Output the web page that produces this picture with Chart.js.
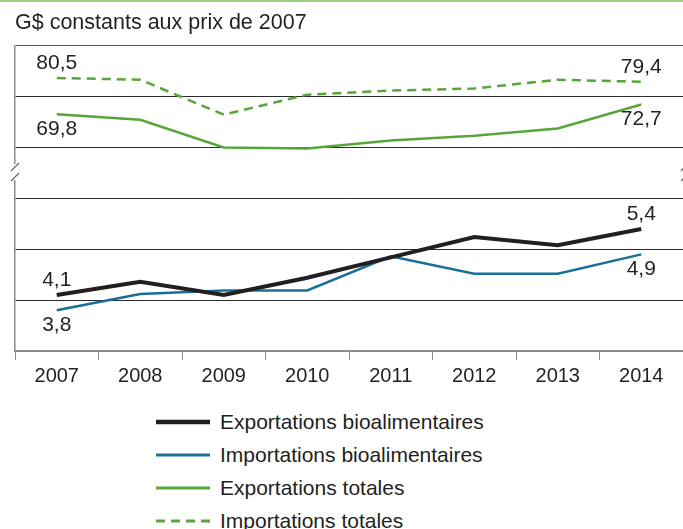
<!DOCTYPE html>
<html>
<head>
<meta charset="utf-8">
<script src="https://cdn.jsdelivr.net/npm/chart.js@4/dist/chart.umd.min.js"></script>
<style>
    body { margin: 0; background: #fff; width: 683px; height: 529px; overflow: hidden; position: relative; font-family: "Liberation Sans", Arial, sans-serif; color: #231f20; }
    #topRule { position: absolute; left: 0; top: 0; width: 683px; height: 2px; background: #9ccc7c; }
    #wrap { position: absolute; left: 0; top: 0; width: 683px; height: 395px; }
    #legend { position: absolute; left: 156px; top: 405px; }
    .row { height: 33px; display: flex; align-items: center; font-size: 21px; white-space: nowrap; }
    .row svg { margin-right: 10px; }
</style>
</head>
<body>
<div id="topRule"></div>
<div id="wrap"><canvas id="chart"></canvas></div>
<div id="legend"></div>
<script>
// Values (G$ constants aux prix de 2007)
const years = ['2007', '2008', '2009', '2010', '2011', '2012', '2013', '2014'];
const exportsBio = [4.1, 4.36, 4.1, 4.44, 4.84, 5.24, 5.08, 5.4];
const importsBio = [3.8, 4.12, 4.19, 4.19, 4.86, 4.52, 4.52, 4.9];
const exportsTotal = [69.8, 68.2, 60.0, 59.7, 62.1, 63.5, 65.6, 72.7];
const importsTotal = [80.5, 80.0, 69.7, 75.6, 76.8, 77.4, 80.0, 79.4];

const TEXT = '#231f20';
const GRID = '#2b2b2b';
const AXIS = '#8c8c8c';
const FONT = '"Liberation Sans", Arial, sans-serif';

function fmt(v) {
    return v.toFixed(1).replace('.', ',');
}

// first / last value labels
const endLabels = {
    id: 'endLabels',
    afterDatasetsDraw(chart) {
        const ctx = chart.ctx;
        ctx.save();
        ctx.font = '21px ' + FONT;
        ctx.fillStyle = TEXT;
        ctx.textAlign = 'center';
        ctx.textBaseline = 'middle';
        chart.data.datasets.forEach((ds, i) => {
            const meta = chart.getDatasetMeta(i);
            const last = ds.data.length - 1;
            [0, last].forEach(idx => {
                const pt = meta.data[idx];
                const dy = ds.labelPos === 'above' ? -15 : 15;
                ctx.fillText(fmt(ds.data[idx]), pt.x, pt.y + dy);
            });
        });
        ctx.restore();
    }
};

// axis break marks between the two panels
const axisBreak = {
    id: 'axisBreak',
    afterDraw(chart) {
        const ctx = chart.ctx;
        const top = chart.scales.yTot.getPixelForValue(60);
        const bottom = chart.scales.yBio.getPixelForValue(6);
        const mid = (top + bottom) / 2;
        ctx.save();
        ctx.strokeStyle = '#6a6a6a';
        ctx.lineWidth = 1.2;
        [chart.chartArea.left, chart.chartArea.right + 2].forEach(x => {
            ctx.fillStyle = '#fff';
            ctx.fillRect(x - 3, mid - 9, 6, 16);
            ctx.beginPath();
            ctx.moveTo(x - 4, mid - 2);
            ctx.lineTo(x + 4, mid - 10);
            ctx.moveTo(x - 4, mid + 8);
            ctx.lineTo(x + 4, mid);
            ctx.stroke();
        });
        ctx.restore();
    }
};

const chart = new Chart(document.getElementById('chart'), {
    type: 'line',
    data: {
        labels: years,
        datasets: [{
            label: 'Exportations bioalimentaires',
            data: exportsBio,
            yAxisID: 'yBio',
            borderColor: TEXT,
            borderWidth: 4,
            labelPos: 'above'
        }, {
            label: 'Importations bioalimentaires',
            data: importsBio,
            yAxisID: 'yBio',
            borderColor: '#1a6f99',
            borderWidth: 2.5,
            labelPos: 'below'
        }, {
            label: 'Exportations totales',
            data: exportsTotal,
            yAxisID: 'yTot',
            borderColor: '#58a639',
            borderWidth: 2.5,
            labelPos: 'below'
        }, {
            label: 'Importations totales',
            data: importsTotal,
            yAxisID: 'yTot',
            borderColor: '#58a639',
            borderWidth: 2.5,
            borderDash: [9, 6],
            labelPos: 'above'
        }]
    },
    options: {
        responsive: true,
        maintainAspectRatio: false,
        animation: false,
        elements: {
            point: { radius: 0 },
            line: { tension: 0 }
        },
        layout: {
            padding: { left: 15, right: 0, top: 0, bottom: 3 }
        },
        scales: {
            x: {
                offset: true,
                grid: {
                    offset: true,
                    drawOnChartArea: false,
                    tickLength: 9,
                    color: AXIS
                },
                border: { color: AXIS, width: 1.5 },
                ticks: {
                    padding: 4,
                    color: TEXT,
                    font: { family: FONT, size: 20 }
                }
            },
            yBio: {
                type: 'linear',
                position: 'left',
                stack: 'panels',
                stackWeight: 1,
                min: 3,
                max: 6,
                ticks: { display: false, stepSize: 1 },
                grid: {
                    drawTicks: false,
                    color: c => c.tick && c.tick.value === 3 ? AXIS : GRID
                },
                border: { color: AXIS, width: 1.5 }
            },
            yTot: {
                type: 'linear',
                position: 'left',
                stack: 'panels',
                stackWeight: 1,
                min: 45,
                max: 90,
                ticks: { display: false, stepSize: 15 },
                grid: {
                    drawTicks: false,
                    color: c => c.tick && c.tick.value === 90 ? '#555' : GRID
                },
                border: { color: AXIS, width: 1.5 }
            }
        },
        plugins: {
            legend: { display: false },
            tooltip: { enabled: false },
            title: {
                display: true,
                text: 'G$ constants aux prix de 2007',
                align: 'start',
                color: TEXT,
                font: { family: FONT, size: 21.5, weight: 'normal' },
                padding: { top: 10, bottom: 10 }
            }
        }
    },
    plugins: [endLabels, axisBreak]
});

// html legend built from the datasets
const legend = document.getElementById('legend');
chart.data.datasets.forEach(ds => {
    const row = document.createElement('div');
    row.className = 'row';
    const dash = ds.borderDash ? ds.borderDash.join(' ') : 'none';
    const w = ds.borderWidth === 4 ? 4.5 : 3;
    row.innerHTML = '<svg width="54" height="10"><line x1="0" y1="5" x2="54" y2="5" stroke="' +
        ds.borderColor + '" stroke-width="' + w + '" stroke-dasharray="' + dash + '"/></svg>' +
        '<span>' + ds.label + '</span>';
    legend.appendChild(row);
});
</script>
</body>
</html>
